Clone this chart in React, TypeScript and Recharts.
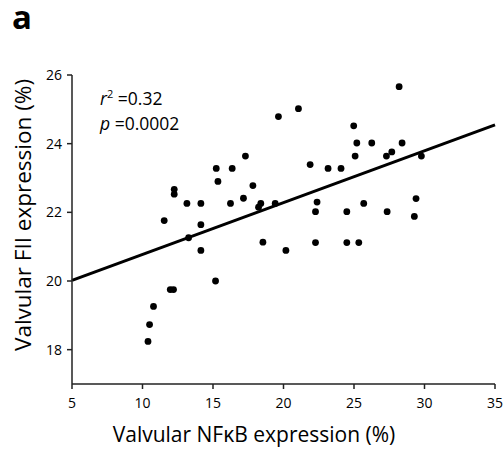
import React from "react";
import {
  ScatterChart,
  Scatter,
  XAxis,
  YAxis,
  ReferenceLine,
  Customized,
} from "recharts";

const nfkbValues = [
  11.54, 12.25, 12.25, 13.15, 13.27, 14.14, 14.14, 14.14, 15.23, 15.35,
  16.36, 16.24, 17.3, 17.16, 17.83, 18.39, 18.23, 18.54, 19.41, 19.64,
  21.06, 20.17, 21.89, 23.16, 24.08, 22.38, 22.27, 22.27, 24.49, 24.49,
  25.34, 24.98, 25.2, 26.26, 25.08, 25.69, 27.3, 27.68, 28.41, 28.2,
  27.35, 29.78, 29.4, 29.28, 15.18, 11.97, 12.2, 10.78, 10.5, 10.39,
];
const fiiValues = [
  21.76, 22.67, 22.53, 22.26, 21.26, 22.26, 21.64, 20.89, 23.28, 22.9,
  23.28, 22.26, 23.64, 22.41, 22.78, 22.26, 22.15, 21.13, 22.26, 24.79,
  25.02, 20.89, 23.39, 23.28, 23.28, 22.3, 22.02, 21.12, 22.02, 21.12,
  21.12, 24.52, 24.02, 24.02, 23.64, 22.26, 23.64, 23.76, 24.02, 25.66,
  22.02, 23.64, 22.4, 21.88, 20.0, 19.75, 19.75, 19.26, 18.73, 18.24,
];
const fitX = [5, 35];
const fitY = [20.02, 24.55];
const xTicks = [5, 10, 15, 20, 25, 30, 35];
const yTicks = [18, 20, 22, 24, 26];
const panelLabel = "a";
const statR2 = "0.32";
const statP = "0.0002";
const xTitle = "Valvular NFκB expression (%)";
const yTitle = "Valvular FII expression (%)";

const points = nfkbValues.map((x, i) => ({ x, y: fiiValues[i] }));
const FONT = "'Open Sans', sans-serif";

const Texts = () => (
  <g fontFamily={FONT} fill="#000">
    <text x={12} y={29} fontSize={33} fontWeight="bold">
      {panelLabel}
    </text>
    <text x={12} y={474} fontSize={34} fontWeight="bold">
      c
    </text>
    <text x={100} y={105} fontSize={17.5}>
      <tspan fontStyle="italic">r</tspan>
      <tspan fontSize={11} dy={-7}>2</tspan>
      <tspan dy={7}> =</tspan>
      <tspan>{statR2}</tspan>
    </text>
    <text x={100} y={130} fontSize={17.5}>
      <tspan fontStyle="italic">p</tspan>
      <tspan> ={statP}</tspan>
    </text>
    <text x={254} y={442} fontSize={21} textAnchor="middle">
      {xTitle}
    </text>
    <text
      x={0}
      y={0}
      fontSize={22.5}
      textAnchor="middle"
      transform="translate(31,215) rotate(-90)"
    >
      {yTitle}
    </text>
  </g>
);

export default function App() {
  return (
    <div style={{ position: "absolute", left: 0, top: 0, background: "#fff" }}>
      <ScatterChart
        width={504}
        height={454}
        margin={{ top: 75, right: 9, bottom: 0, left: 0 }}
      >
        <XAxis
          type="number"
          dataKey="x"
          domain={[5, 35]}
          ticks={xTicks}
          height={70}
          tickSize={5}
          tickMargin={9}
          stroke="#222"
          strokeWidth={1.5}
          tick={{ fill: "#000", fontSize: 14, fontFamily: FONT }}
          allowDataOverflow
        />
        <YAxis
          type="number"
          dataKey="y"
          domain={[17, 26]}
          ticks={yTicks}
          width={72}
          tickSize={5}
          tickMargin={5}
          stroke="#222"
          strokeWidth={1.5}
          tick={{ fill: "#000", fontSize: 14, fontFamily: FONT }}
          allowDataOverflow
        />
        <ReferenceLine
          segment={[
            { x: fitX[0], y: fitY[0] },
            { x: fitX[1], y: fitY[1] },
          ]}
          stroke="#000"
          strokeWidth={3}
          ifOverflow="visible"
        />
        <Scatter
          data={points}
          fill="#000"
          isAnimationActive={false}
          shape={(p: any) => <circle cx={p.cx} cy={p.cy} r={3.4} fill="#000" />}
        />
        <Customized component={Texts} />
      </ScatterChart>
    </div>
  );
}
